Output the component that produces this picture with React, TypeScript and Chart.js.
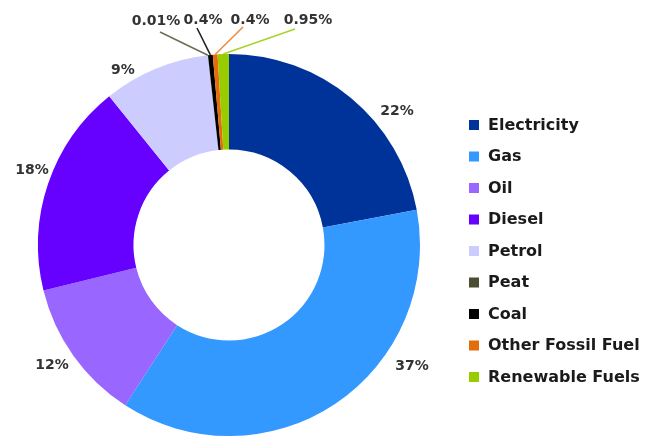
import React, { useEffect, useRef } from 'react';
import { Chart, registerables } from 'chart.js';

Chart.register(...registerables);

// ---- data ----
const categories = [
  'Electricity',
  'Gas',
  'Oil',
  'Diesel',
  'Petrol',
  'Peat',
  'Coal',
  'Other Fossil Fuel',
  'Renewable Fuels',
];
const shares = [22, 37, 12, 18, 9, 0.01, 0.4, 0.4, 0.95];
const shareLabels = shares.map((v) => String(v) + '%');
const colors = [
  '#003399',
  '#3399FF',
  '#9966FF',
  '#6600FF',
  '#CCCCFF',
  '#4D4D33',
  '#000000',
  '#E46C0A',
  '#99CC00',
];

// ---- layout (label anchors relative to the doughnut centre, in units of outer radius) ----
const REF_R = 191;
const labelOffsets: [number, number][] = [
  [168, -134],
  [183, 121],
  [-177, 120],
  [-197, -75],
  [-106, -175],
  [-73, -224],
  [-26, -225],
  [21, -225],
  [79, -225],
];
const leaderEnds: ([number, number] | null)[] = [
  null,
  null,
  null,
  null,
  null,
  [-69, -213],
  [-32, -217],
  [14, -218],
  [66, -216],
];
const leaderColors = [null, null, null, null, null, '#6f6f58', '#222222', '#F08C3C', '#A6D42A'];

const LABEL_FONT = 'bold 14px "DejaVu Sans"';
const LEGEND_FONT = 'bold 16px "DejaVu Sans"';

const labelPlugin = {
  id: 'sliceLabels',
  afterDraw(chart: any) {
    const ctx = chart.ctx as CanvasRenderingContext2D;
    const meta = chart.getDatasetMeta(0);
    if (!meta || !meta.data.length) return;
    const first = meta.data[0];
    const cx = first.x;
    const cy = first.y;
    const R = first.outerRadius;
    const k = R / REF_R;
    ctx.save();
    meta.data.forEach((arc: any, i: number) => {
      const p = arc.getProps(['startAngle', 'endAngle', 'outerRadius'], true);
      const mid = (p.startAngle + p.endAngle) / 2;
      const [ox, oy] = labelOffsets[i];
      const tx = cx + ox * k;
      const ty = cy + oy * k;
      const le = leaderEnds[i];
      if (le) {
        const sx = cx + Math.cos(mid) * p.outerRadius;
        const sy = cy + Math.sin(mid) * p.outerRadius;
        ctx.beginPath();
        ctx.strokeStyle = leaderColors[i] || colors[i];
        ctx.lineWidth = 1.6;
        ctx.moveTo(sx, sy);
        ctx.lineTo(cx + le[0] * k, cy + le[1] * k);
        ctx.stroke();
      }
      ctx.font = LABEL_FONT;
      ctx.fillStyle = '#333333';
      ctx.textAlign = 'center';
      ctx.textBaseline = 'middle';
      ctx.fillText(shareLabels[i], tx, ty);
    });

    // legend
    const labels = chart.data.labels as string[];
    const bg = chart.data.datasets[0].backgroundColor as string[];
    const lx = 469;
    const ly0 = 125;
    const step = 31.5;
    labels.forEach((lab, i) => {
      const y = ly0 + i * step;
      ctx.fillStyle = bg[i];
      ctx.fillRect(lx, y - 5, 10, 10);
      ctx.font = LEGEND_FONT;
      ctx.fillStyle = '#1a1a1a';
      ctx.textAlign = 'left';
      ctx.textBaseline = 'middle';
      ctx.fillText(lab, lx + 19, y + 0.5);
    });
    ctx.restore();
  },
};

export default function App() {
  const ref = useRef<HTMLCanvasElement | null>(null);
  useEffect(() => {
    if (!ref.current) return;
    const chart = new Chart(ref.current, {
      type: 'doughnut',
      data: {
        labels: categories,
        datasets: [
          {
            data: shares,
            backgroundColor: colors,
            borderWidth: 0,
          },
        ],
      },
      options: {
        responsive: false,
        animation: false,
        devicePixelRatio: 1,
        cutout: '50%',
        layout: { padding: { left: 38, top: 54, right: 239, bottom: 2 } },
        plugins: {
          legend: { display: false },
          tooltip: { enabled: false },
        },
      },
      plugins: [labelPlugin],
    });
    return () => chart.destroy();
  }, []);
  return (
    <div style={{ position: 'absolute', left: 0, top: 0, width: 659, height: 438, background: '#fff' }}>
      <canvas ref={ref} width={659} height={438} />
    </div>
  );
}
